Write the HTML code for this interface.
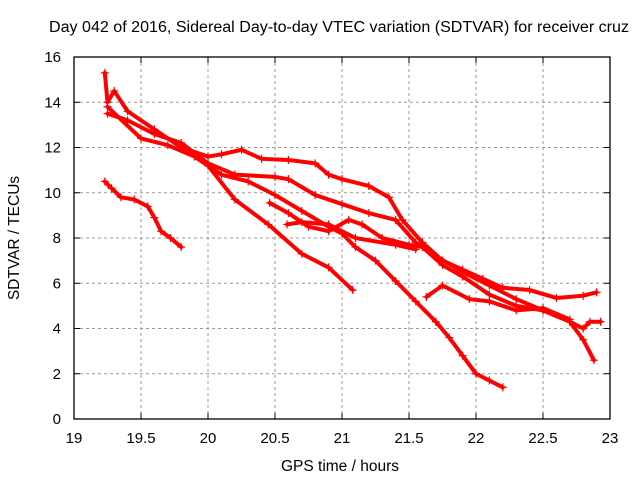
<!DOCTYPE html>
<html><head><meta charset="utf-8"><style>
body{margin:0;background:#fff;}
svg{display:block;font-family:"Liberation Sans",sans-serif;}
</style></head><body>
<svg id="chart" width="640" height="480">
<text x="339" y="32" font-size="15.5" text-anchor="middle" textLength="580" lengthAdjust="spacingAndGlyphs">Day 042 of 2016, Sidereal Day-to-day VTEC variation (SDTVAR) for receiver cruz</text>
<text x="340" y="471" font-size="15.5" text-anchor="middle">GPS time / hours</text>
<text transform="translate(19,238) rotate(-90)" font-size="15.5" text-anchor="middle">SDTVAR / TECUs</text>
<g id="grid"></g><g id="series"></g>
<rect x="74" y="57" width="536" height="362" fill="none" stroke="#000" stroke-width="1.3"/>
</svg>
<script>
const xTicks=[19,19.5,20,20.5,21,21.5,22,22.5,23];
const xTickLabels=["19","19.5","20","20.5","21","21.5","22","22.5","23"];
const yTicks=[0,2,4,6,8,10,12,14,16];
const yTickLabels=["0","2","4","6","8","10","12","14","16"];
const s1x=[19.23,19.28,19.35,19.45,19.55,19.6,19.65,19.72,19.8];
const s1y=[10.5,10.2,9.8,9.7,9.4,8.9,8.3,8.0,7.6];
const s2x=[19.23,19.25,19.3,19.4,19.6,19.8,20.0,20.1,20.25,20.4,20.6,20.8,20.9,21.0,21.2,21.35,21.45,21.6,21.75,21.9,22.05,22.2,22.4,22.6,22.8,22.9];
const s2y=[15.3,14.0,14.5,13.6,12.8,12.0,11.6,11.7,11.9,11.5,11.45,11.3,10.8,10.6,10.3,9.8,8.8,7.8,7.0,6.6,6.2,5.8,5.7,5.35,5.45,5.6];
const s3x=[19.25,19.4,19.6,19.8,20.0,20.2,20.5,20.6,20.8,21.0,21.2,21.4,21.55,21.7,21.9,22.1,22.3,22.5,22.7,22.8,22.88];
const s3y=[13.5,13.2,12.6,12.2,11.3,10.8,10.7,10.6,9.9,9.5,9.1,8.8,7.8,7.2,6.5,5.9,5.3,4.8,4.3,3.5,2.6];
const s4x=[20.46,20.6,20.75,20.9,21.05,21.15,21.3,21.5,21.6,21.75,21.9,22.1,22.3,22.5,22.7,22.8,22.85,22.93];
const s4y=[9.55,9.1,8.5,8.3,8.8,8.6,8.0,7.7,7.6,6.8,6.3,5.5,5.0,4.8,4.3,4.0,4.3,4.3];
const s5x=[20.59,20.7,20.9,21.1,21.4,21.55];
const s5y=[8.6,8.7,8.6,8.0,7.7,7.5];
const s6x=[19.25,19.5,19.7,19.9,20.0,20.2,20.45,20.7,20.9,21.08];
const s6y=[13.8,12.4,12.1,11.6,11.2,9.7,8.6,7.3,6.7,5.7];
const s7x=[19.9,20.1,20.3,20.5,20.7,20.9,21.0,21.1,21.25,21.4,21.55,21.7,21.8,21.9,22.0,22.1,22.2];
const s7y=[11.6,10.8,10.5,9.9,9.2,8.5,8.2,7.6,7.0,6.1,5.2,4.3,3.6,2.8,2.0,1.7,1.4];
const s8x=[21.63,21.75,21.95,22.1,22.3,22.5,22.7];
const s8y=[5.4,5.9,5.3,5.2,4.8,4.9,4.4];
const seriesX=[s1x,s2x,s3x,s4x,s5x,s6x,s7x,s8x];
const seriesY=[s1y,s2y,s3y,s4y,s5y,s6y,s7y,s8y];
const NS="http://www.w3.org/2000/svg";
function X(v){return 74+(v-19)/4*536;}
function Y(v){return 419-v/16*362;}
const grid=document.getElementById('grid');
function mk(tag,attrs,parent){const e=document.createElementNS(NS,tag);for(const k in attrs)e.setAttribute(k,attrs[k]);parent.appendChild(e);return e;}
xTicks.forEach((t,i)=>{
  if(i>0&&i<xTicks.length-1){const l=mk('line',{x1:X(t),x2:X(t),y1:57,y2:419,stroke:'#999','stroke-dasharray':'3,3'},grid);
  
  }
  mk('line',{x1:X(t),x2:X(t),y1:419,y2:413,stroke:'#000'},grid);
  mk('line',{x1:X(t),x2:X(t),y1:57,y2:63,stroke:'#000'},grid);
  const tx=mk('text',{x:X(t),y:443,'font-size':15,'text-anchor':'middle'},grid);
  tx.textContent=xTickLabels[i];
  
  
});
yTicks.forEach((t,i)=>{
  if(i>0&&i<yTicks.length-1){const l=mk('line',{x1:74,x2:610,y1:Y(t),y2:Y(t),stroke:'#999','stroke-dasharray':'3,3'},grid);
  
  }
  mk('line',{x1:74,x2:80,y1:Y(t),y2:Y(t),stroke:'#000'},grid);
  mk('line',{x1:604,x2:610,y1:Y(t),y2:Y(t),stroke:'#000'},grid);
  const tx=mk('text',{x:61,y:Y(t)+5,'font-size':15,'text-anchor':'end'},grid);
  tx.textContent=yTickLabels[i];
  
  
});
const sg=document.getElementById('series');
seriesX.forEach((xs,si)=>{
  const ys=seriesY[si];
  const pts=xs.map((x,i)=>X(x)+','+Y(ys[i])).join(' ');
  const pl=mk('polyline',{points:pts,fill:'none',stroke:'#f00','stroke-width':4,'stroke-linejoin':'round','stroke-linecap':'round'},sg);
  
  
  xs.forEach((x,i)=>{
    const cx=X(x),cy=Y(ys[i]);
    const p=mk('path',{d:`M${cx-4},${cy}H${cx+4}M${cx},${cy-4}V${cy+4}`,stroke:'#f00','stroke-width':1.2},sg);
    
    
  });
});
</script>
</body></html>
